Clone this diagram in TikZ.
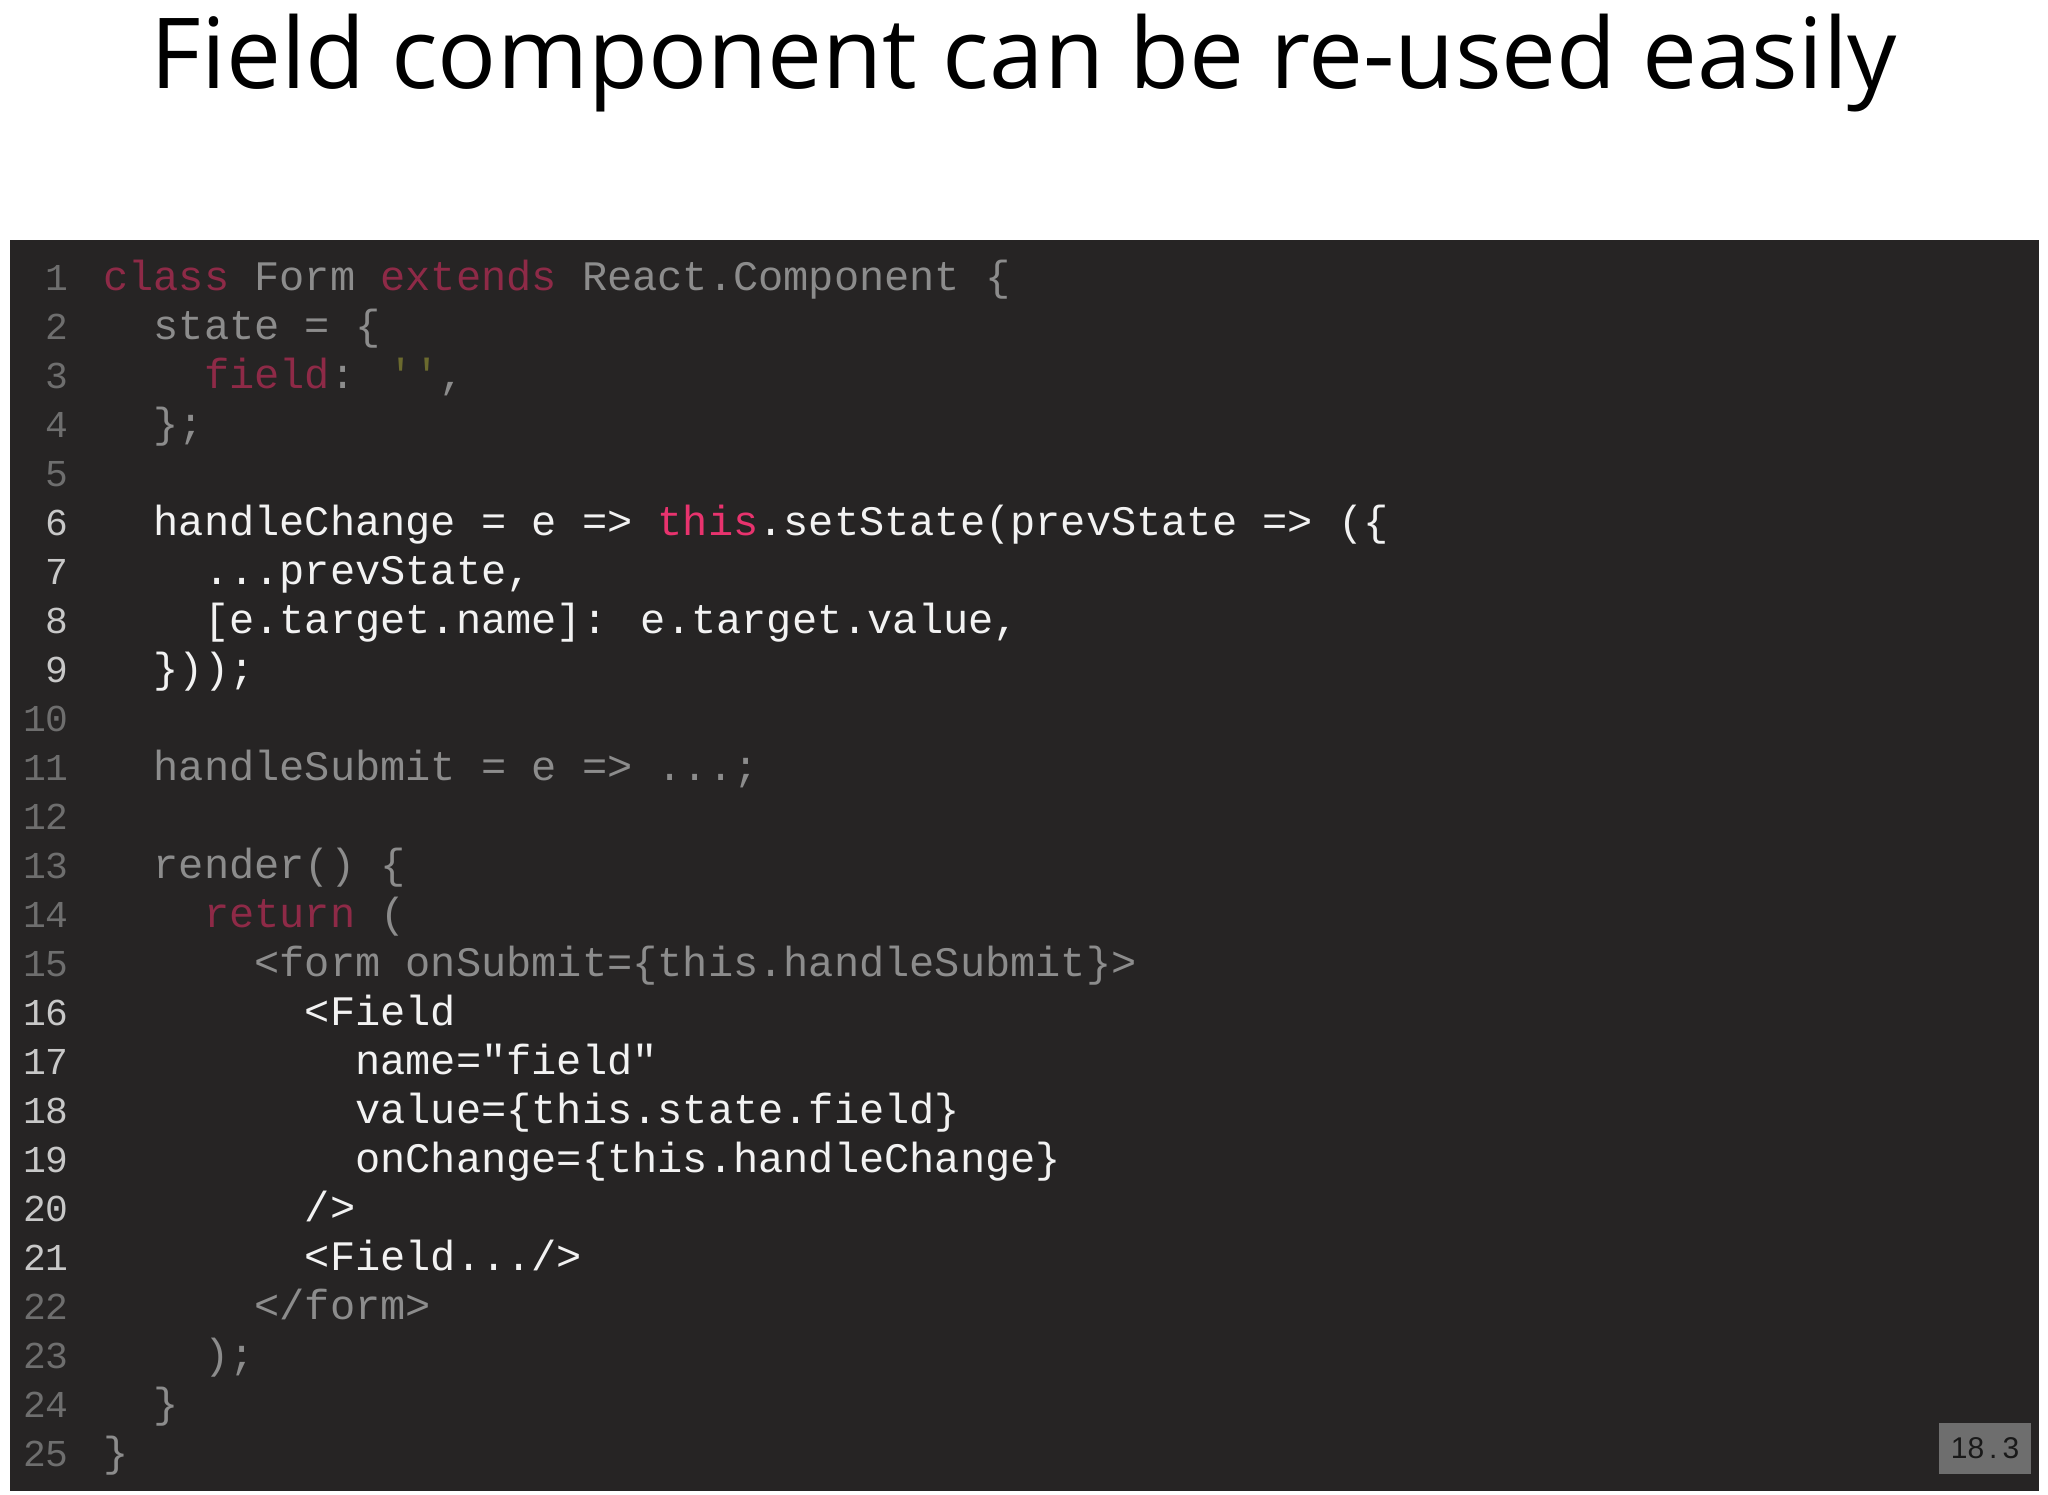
\documentclass[tikz,border=0pt]{standalone}
\usepackage{fontspec}
\setmainfont{Open Sans}
\newfontfamily\codef{Liberation Mono}
\newfontfamily\badgef{Liberation Sans}
\definecolor{bg}{HTML}{262424}
\definecolor{hi}{HTML}{F2F2F2}
\definecolor{dim}{HTML}{8C8C8C}
\definecolor{dimkw}{HTML}{8E2A47}
\definecolor{pink}{HTML}{E8336E}
\definecolor{nhi}{HTML}{C8C8C8}
\definecolor{ndim}{HTML}{6E6E6E}
\definecolor{dimstr}{HTML}{6B6A2E}
\tikzset{
 codeline/.style={anchor=base west,inner sep=0pt,font=\codef\fontsize{42}{42}\selectfont},
 numline/.style={anchor=base east,inner sep=0pt,font=\codef\fontsize{38}{38}\selectfont},
}
\newcommand{\ind}[1]{\hspace*{#1\dimexpr 25.2pt\relax}}
\begin{document}
\begin{tikzpicture}[x=1pt,y=-1pt]
\useasboundingbox (0,0) rectangle (2048,1494);
\fill[white] (0,0) rectangle (2048,1494);
\node[font=\fontsize{98}{98}\selectfont,inner sep=0pt] (title) at (1024,63) {Field component can be re-used easily};
\fill[bg] (10,240) rectangle (2039,1491);
\foreach \i in {1,...,25}{
  \pgfmathsetmacro{\yy}{290+49.04*(\i-1)}
  \ifnum\i<6 \def\nc{ndim}\else\ifnum\i<10 \def\nc{nhi}\else\ifnum\i<16 \def\nc{ndim}\else\ifnum\i<22 \def\nc{nhi}\else\def\nc{ndim}\fi\fi\fi\fi
  \node[numline,text=\nc] (n\i) at (69,\yy) {\i};
}
\def\L#1#2{\node[codeline] (l#1) at (103,{290+49.04*(#1-1)}) {#2};}
\L{1}{\textcolor{dimkw}{class} \textcolor{dim}{Form} \textcolor{dimkw}{extends} \textcolor{dim}{React.Component \{}}
\L{2}{\ind{2}\textcolor{dim}{state = \{}}
\L{3}{\ind{4}\textcolor{dimkw}{field}\textcolor{dim}{: }\textcolor{dimstr}{''}\textcolor{dim}{,}}
\L{4}{\ind{2}\textcolor{dim}{\};}}
\L{6}{\ind{2}\textcolor{hi}{handleChange = e => }\textcolor{pink}{this}\textcolor{hi}{.setState(prevState => (\{}}
\L{7}{\ind{4}\textcolor{hi}{...prevState,}}
\L{8}{\ind{4}\textcolor{hi}{[e.target.name]: e.target.value,}}
\L{9}{\ind{2}\textcolor{hi}{\}));}}
\L{11}{\ind{2}\textcolor{dim}{handleSubmit = e => ...;}}
\L{13}{\ind{2}\textcolor{dim}{render() \{}}
\L{14}{\ind{4}\textcolor{dimkw}{return} \textcolor{dim}{(}}
\L{15}{\ind{6}\textcolor{dim}{<form onSubmit=\{this.handleSubmit\}>}}
\L{16}{\ind{8}\textcolor{hi}{<Field}}
\L{17}{\ind{10}\textcolor{hi}{name="field"}}
\L{18}{\ind{10}\textcolor{hi}{value=\{this.state.field\}}}
\L{19}{\ind{10}\textcolor{hi}{onChange=\{this.handleChange\}}}
\L{20}{\ind{8}\textcolor{hi}{/>}}
\L{21}{\ind{8}\textcolor{hi}{<Field.../>}}
\L{22}{\ind{6}\textcolor{dim}{</form>}}
\L{23}{\ind{4}\textcolor{dim}{);}}
\L{24}{\ind{2}\textcolor{dim}{\}}}
\L{25}{\textcolor{dim}{\}}}
\node[fill=ndim,minimum width=92pt,minimum height=51pt,inner sep=0pt,font=\badgef\fontsize{30}{30}\selectfont,text=black!90] (badge) at (1985,1448.5) {18\,.\,3};
\end{tikzpicture}
\end{document}
